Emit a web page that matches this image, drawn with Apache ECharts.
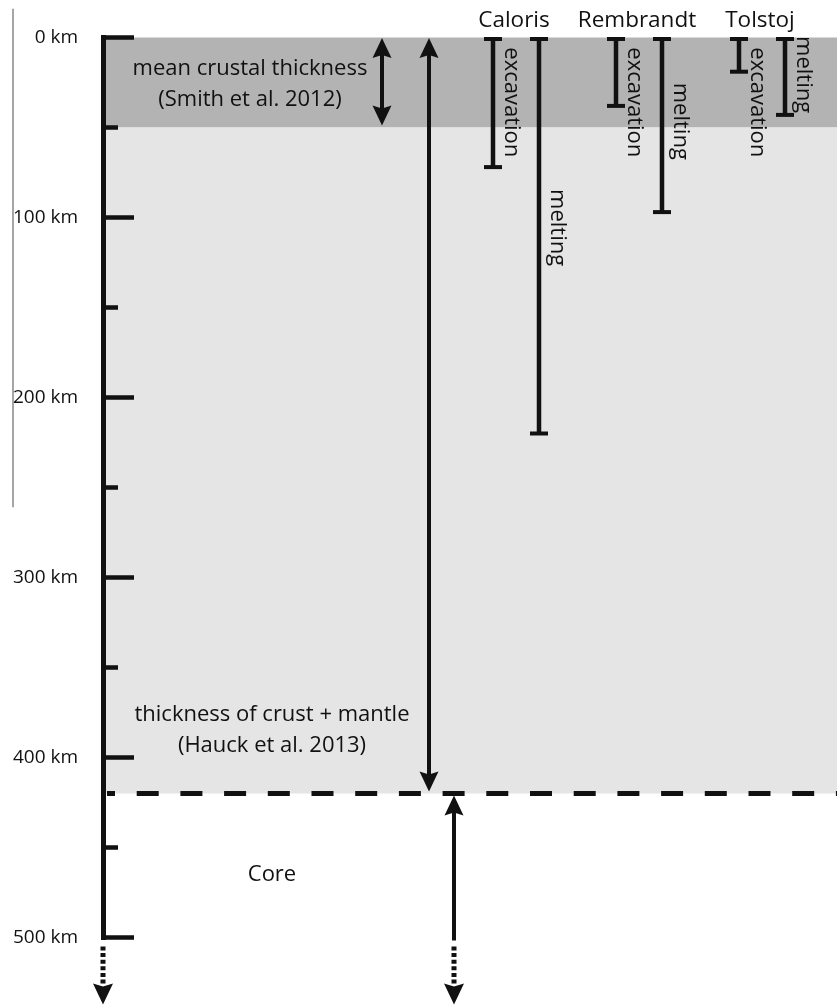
<!DOCTYPE html>
<html>
<head>
<meta charset="utf-8">
<title>Mercury: crust, mantle and crater depths</title>
<script src="https://cdn.jsdelivr.net/npm/echarts@6/dist/echarts.min.js"></script>
<style>
  html, body { margin: 0; padding: 0; background: #fff; }
  #chart { width: 837px; height: 1008px; }
</style>
</head>
<body>
<div id="chart"></div>
<script>
// ---------- data (depths in km) ----------
const depthMax = 500;
const depthStep = 100;
const depthUnit = 'km';
const craters = ['Caloris', 'Rembrandt', 'Tolstoj'];
const excavationDepth = [72, 38, 19];
const meltingDepth = [220, 97, 43];
const crustThickness = 50;   // Smith et al. 2012
const mantleBase = 420;      // Hauck et al. 2013
const layerLabels = [
  'mean crustal thickness\n(Smith et al. 2012)',
  'thickness of crust + mantle\n(Hauck et al. 2013)',
  'Core'
];

// ---------- layout & style ----------
const AXIS_LEFT = 103, PLOT_TOP = 37.5, PLOT_W = 734, PLOT_H = 900;
const INK = '#111';
const FONT = '"Open Sans", "Noto Sans", sans-serif';
const LAYER_FILLS = ['#b3b3b3', '#e5e5e5'];
// horizontal positions inside the main grid, px to the right of the depth axis
const THICKNESS_ARROW_X = [279, 326];
const CORE_ARROW_X = 351;
const GUIDE_X = -90;
// [x, depth] anchor of each layer caption
const LAYER_LABEL_AT = [[147, 26], [169, 385], [169, 465]];
// crater bars: offset from crater centre, label offset from bar
const EXC_DX = -21, MELT_DX = 25, LABEL_DX = 18;

function head(x, tipY, dir, len, half) {
  len = len || 20; half = half || 9.5;
  const b = tipY - dir * len, n = tipY - dir * (len - 3);
  return { type: 'polygon',
    shape: { points: [[x, tipY], [x + half, b], [x, n], [x - half, b]] },
    style: { fill: INK } };
}
function seg(x1, y1, x2, y2, w, dash, dashOffset) {
  return { type: 'line', shape: { x1, y1, x2, y2 },
    style: { stroke: INK, lineWidth: w, lineDash: dash || null, lineDashOffset: dashOffset || 0, lineCap: 'butt' } };
}
// solid shaft ends at depthMax, then a dotted continuation and arrowhead
function continuation(p) {
  return [
    seg(p[0], p[1] + 9, p[0], p[1] + 46, 5, [4, 2.6]),
    head(p[0], p[1] + 67, 1, 21, 10)
  ];
}

function craterSeries(name, depths, dx, labelDepth) {
  return {
    type: 'custom', name, xAxisIndex: 1, yAxisIndex: 1, clip: false, z: 5,
    data: depths.map((d, i) => [i, d]),
    renderItem(params, api) {
      const top = api.coord([api.value(0), 0]);
      const bot = api.coord([api.value(0), api.value(1)]);
      const x = top[0] + dx;
      const ly = api.coord([api.value(0), labelDepth(api.value(1))])[1];
      return { type: 'group', children: [
        seg(x, top[1] + 1.5, x, bot[1], 4.5),
        seg(x - 9, top[1] + 1.5, x + 9, top[1] + 1.5, 4),
        seg(x - 9, bot[1], x + 9, bot[1], 4),
        { type: 'text', x: x + LABEL_DX, y: ly, rotation: -Math.PI / 2,
          style: { text: name, fill: INK, fontSize: 22, fontFamily: FONT, align: 'center', verticalAlign: 'middle' } }
      ] };
    }
  };
}

const chart = echarts.init(document.getElementById('chart'));

const option = {
  animation: false,
  backgroundColor: '#fff',
  grid: [
    { left: AXIS_LEFT, top: PLOT_TOP, width: PLOT_W, height: PLOT_H, outerBoundsMode: 'none', containLabel: false },
    { left: 452.5, top: PLOT_TOP, width: 369, height: PLOT_H, outerBoundsMode: 'none', containLabel: false }
  ],
  xAxis: [
    { gridIndex: 0, type: 'value', min: 0, max: PLOT_W, show: false },
    { gridIndex: 1, type: 'category', data: craters, position: 'top',
      axisLine: { show: false }, axisTick: { show: false }, splitLine: { show: false },
      axisLabel: { color: INK, fontSize: 22.5, fontFamily: FONT, margin: 17, verticalAlign: 'middle', interval: 0 } }
  ],
  yAxis: [
    { gridIndex: 0, type: 'value', inverse: true, min: 0, max: depthMax, interval: depthStep, z: 10,
      axisLine: { show: true, lineStyle: { color: INK, width: 5, cap: 'square' } },
      axisTick: { show: true, inside: true, length: 31, lineStyle: { color: INK, width: 4.5 } },
      minorTick: { show: true, splitNumber: 2, length: 15, lineStyle: { color: INK, width: 4.5 } },
      splitLine: { show: false },
      axisLabel: { color: INK, fontSize: 19, fontFamily: FONT, margin: 25,
        formatter: v => v + ' ' + depthUnit } },
    { gridIndex: 1, type: 'value', inverse: true, min: 0, max: depthMax, show: false }
  ],
  series: [
    // crust and mantle bands
    { type: 'custom', name: 'layers', xAxisIndex: 0, yAxisIndex: 0, clip: false, z: 1,
      data: [[0, crustThickness], [crustThickness, mantleBase]],
      renderItem(params, api) {
        const a = api.coord([3, api.value(0)]);
        const b = api.coord([PLOT_W, api.value(1)]);
        return { type: 'rect', shape: { x: a[0], y: a[1], width: b[0] - a[0], height: b[1] - a[1] },
          style: { fill: LAYER_FILLS[params.dataIndex] } };
      } },
    // core-mantle boundary
    { type: 'custom', name: 'boundary', xAxisIndex: 0, yAxisIndex: 0, clip: false, z: 3,
      data: [[mantleBase]],
      renderItem(params, api) {
        const a = api.coord([4, api.value(0)]);
        const b = api.coord([PLOT_W, api.value(0)]);
        return seg(a[0], a[1], b[0], b[1], 5, [22, 21.7], 14);
      } },
    // thickness arrows (crust, crust + mantle)
    { type: 'custom', name: 'thickness', xAxisIndex: 0, yAxisIndex: 0, clip: false, z: 4,
      data: [[0, crustThickness], [0, mantleBase]],
      renderItem(params, api) {
        const x = THICKNESS_ARROW_X[params.dataIndex];
        const p0 = api.coord([x, api.value(0)]);
        const p1 = api.coord([x, api.value(1)]);
        const top = p0[1] + 0.5, bot = p1[1] - 2;
        return { type: 'group', children: [
          seg(p0[0], top + 16, p1[0], bot - 16, 4),
          head(p0[0], top, -1), head(p1[0], bot, 1)
        ] };
      } },
    // core arrow below the boundary
    { type: 'custom', name: 'core', xAxisIndex: 0, yAxisIndex: 0, clip: false, z: 4,
      data: [[mantleBase, depthMax]],
      renderItem(params, api) {
        const p0 = api.coord([CORE_ARROW_X, api.value(0)]);
        const p1 = api.coord([CORE_ARROW_X, api.value(1)]);
        const tip = p0[1] + 2;
        return { type: 'group', children: [
          head(p0[0], tip, -1),
          seg(p0[0], tip + 16, p1[0], p1[1] + 3, 4)
        ].concat(continuation(p1)) };
      } },
    // depth axis continuation
    { type: 'custom', name: 'axis continuation', xAxisIndex: 0, yAxisIndex: 0, clip: false, z: 4,
      data: [[depthMax]],
      renderItem(params, api) {
        return { type: 'group', children: continuation(api.coord([0, api.value(0)])) };
      } },
    // thin guide rule left of the axis labels
    { type: 'custom', name: 'guide', xAxisIndex: 0, yAxisIndex: 0, clip: false, z: 4,
      data: [[-16, 261]],
      renderItem(params, api) {
        const a = api.coord([GUIDE_X, api.value(0)]);
        const b = api.coord([GUIDE_X, api.value(1)]);
        return { type: 'line', shape: { x1: a[0], y1: a[1], x2: b[0], y2: b[1] },
          style: { stroke: '#6a6a6a', lineWidth: 1.2 } };
      } },
    // layer captions
    { type: 'custom', name: 'captions', xAxisIndex: 0, yAxisIndex: 0, clip: false, z: 6,
      data: layerLabels.map((t, i) => [i]),
      renderItem(params, api) {
        const at = LAYER_LABEL_AT[params.dataIndex];
        const p = api.coord(at);
        return { type: 'text', x: p[0], y: p[1],
          style: { text: layerLabels[params.dataIndex], fill: INK, fontSize: 22, fontFamily: FONT,
            lineHeight: 31, align: 'center', verticalAlign: 'middle' } };
      } },
    craterSeries('excavation', excavationDepth, EXC_DX, () => 36),
    craterSeries('melting', meltingDepth, MELT_DX, d => d * 0.48)
  ]
};

chart.setOption(option);
</script>
</body>
</html>
